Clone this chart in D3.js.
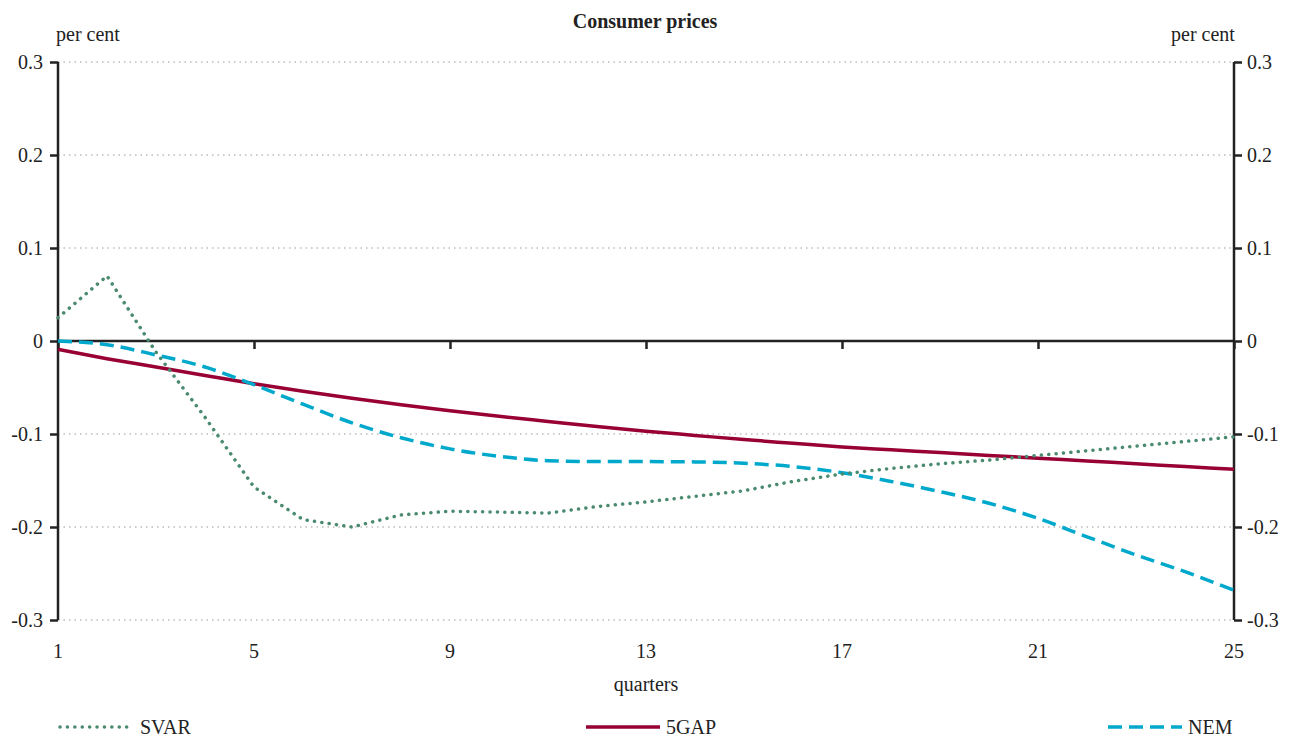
<!DOCTYPE html>
<html lang="en">
<head>
    <meta charset="UTF-8">
    <title>Consumer prices</title>
    <style>
        body, html { margin: 0; padding: 0; background: #fff; overflow: hidden; }
        svg { display: block; }
        text { font-family: "Liberation Serif", "DejaVu Serif", serif; fill: #222; }
        .tick-label { font-size: 20px; }
        .grid line { stroke: #999; stroke-width: 1; stroke-dasharray: 1.5 4; }
    </style>
</head>
<body>
<svg></svg>
<script src="https://d3js.org/d3.v7.min.js"></script>
<script>
    const quarters = d3.range(1, 26);
    const xTicks = [1, 5, 9, 13, 17, 21, 25];
    const yTicks = [-0.3, -0.2, -0.1, 0, 0.1, 0.2, 0.3];

    const svar = [0.025, 0.07, -0.012, -0.082, -0.157, -0.192, -0.2, -0.187, -0.183, -0.184, -0.185, -0.178,
        -0.173, -0.167, -0.161, -0.151, -0.143, -0.137, -0.132, -0.128, -0.123, -0.118, -0.113, -0.108, -0.103];
    const gap5 = [-0.009, -0.019, -0.028, -0.037, -0.046, -0.054, -0.0615, -0.0685, -0.075, -0.081, -0.0865, -0.092,
        -0.097, -0.1015, -0.106, -0.110, -0.114, -0.117, -0.120, -0.123, -0.126, -0.129, -0.132, -0.135, -0.138];
    const nem = [0, -0.004, -0.015, -0.028, -0.047, -0.068, -0.088, -0.104, -0.116, -0.124, -0.1287, -0.1297,
        -0.1297, -0.130, -0.1315, -0.135, -0.1416, -0.151, -0.162, -0.1745, -0.1907, -0.2105, -0.230, -0.248, -0.268];

    const seriesNames = ["SVAR", "5GAP", "NEM"];

    const width = 1290, height = 738;
    const margin = { top: 62, right: 56, bottom: 118, left: 58 };

    const svg = d3.select("svg")
        .attr("width", width)
        .attr("height", height);

    const x = d3.scaleLinear().domain([1, 25]).range([margin.left, width - margin.right]);
    const y = d3.scaleLinear().domain([-0.3, 0.3]).range([height - margin.bottom, margin.top]);

    const styles = {
        SVAR: { color: "#4a8a6e", width: 3.5, dash: "0.1 7.3", cap: "round", curve: d3.curveLinear },
        "5GAP": { color: "#990033", width: 3.5, dash: null, cap: "butt", curve: d3.curveMonotoneX },
        NEM: { color: "#00a9cc", width: 3.5, dash: "14 7", cap: "butt", curve: d3.curveMonotoneX }
    };

    // dotted gridlines
    svg.append("g")
        .attr("class", "grid")
        .selectAll("line")
        .data(yTicks.filter(d => d !== 0))
        .enter().append("line")
        .attr("x1", x(1))
        .attr("x2", x(25))
        .attr("y1", d => y(d))
        .attr("y2", d => y(d));

    // title and units
    svg.append("text")
        .attr("x", width / 2)
        .attr("y", 28)
        .attr("text-anchor", "middle")
        .attr("font-weight", "bold")
        .attr("font-size", 20)
        .text("Consumer prices");

    svg.append("text").attr("class", "tick-label")
        .attr("x", 88).attr("y", 41).attr("text-anchor", "middle").text("per cent");
    svg.append("text").attr("class", "tick-label")
        .attr("x", 1203).attr("y", 41).attr("text-anchor", "middle").text("per cent");

    // y axes
    const fmt = d => d === 0 ? "0" : (d < 0 ? "-" : "") + Math.abs(d).toFixed(1);
    const yLeft = d3.axisLeft(y).tickValues(yTicks).tickSize(8).tickPadding(7).tickFormat(fmt);
    const yRight = d3.axisRight(y).tickValues(yTicks).tickSize(8).tickPadding(5).tickFormat(fmt);

    const gL = svg.append("g").attr("transform", `translate(${x(1)},0)`).call(yLeft);
    const gR = svg.append("g").attr("transform", `translate(${x(25)},0)`).call(yRight);

    [gL, gR].forEach(g => {
        g.select(".domain").attr("stroke", "#222").attr("stroke-width", 2.5)
            .attr("d", `M0,${y(0.3)}V${y(-0.3)}`);
        g.selectAll(".tick line").attr("stroke", "#222").attr("stroke-width", 2.5);
        g.selectAll(".tick text").attr("class", "tick-label")
            .style("font-family", "'Liberation Serif', serif").attr("fill", "#222");
    });

    // zero line with quarter ticks
    const xAxis = d3.axisBottom(x).tickValues(xTicks).tickSize(8).tickFormat("");
    const gX = svg.append("g").attr("transform", `translate(0,${y(0)})`).call(xAxis);
    gX.select(".domain").attr("stroke", "#222").attr("stroke-width", 2.5)
        .attr("d", `M${x(1)},0H${x(25)}`);
    gX.selectAll(".tick line").attr("stroke", "#222").attr("stroke-width", 2.5);

    // quarter labels below the plot
    svg.append("g")
        .selectAll("text")
        .data(xTicks)
        .enter().append("text")
        .attr("class", "tick-label")
        .attr("x", d => x(d))
        .attr("y", y(-0.3) + 38)
        .attr("text-anchor", "middle")
        .text(d => d);

    svg.append("text").attr("class", "tick-label")
        .attr("x", (x(1) + x(25)) / 2)
        .attr("y", 691)
        .attr("text-anchor", "middle")
        .text("quarters");

    // lines
    const data = { SVAR: svar, "5GAP": gap5, NEM: nem };

    ["5GAP", "NEM", "SVAR"].forEach(name => {
        const s = styles[name];
        const line = d3.line()
            .x((d, i) => x(quarters[i]))
            .y(d => y(d))
            .curve(s.curve);
        svg.append("path")
            .datum(data[name])
            .attr("fill", "none")
            .attr("stroke", s.color)
            .attr("stroke-width", s.width)
            .attr("stroke-linecap", s.cap)
            .attr("stroke-dasharray", s.dash)
            .attr("d", line);
    });

    // legend
    const legendPos = [
        { name: "SVAR", x0: 58 },
        { name: "5GAP", x0: 584 },
        { name: "NEM", x0: 1106 }
    ];
    const legendY = 727;
    const lg = svg.append("g");
    legendPos.forEach(p => {
        const s = styles[p.name];
        lg.append("line")
            .attr("x1", p.x0 + 2).attr("x2", p.x0 + 76)
            .attr("y1", legendY).attr("y2", legendY)
            .attr("stroke", s.color)
            .attr("stroke-width", s.width)
            .attr("stroke-linecap", s.cap)
            .attr("stroke-dasharray", s.dash);
        lg.append("text").attr("class", "tick-label")
            .attr("x", p.x0 + 82)
            .attr("y", legendY + 7)
            .text(p.name);
    });
</script>
</body>
</html>
